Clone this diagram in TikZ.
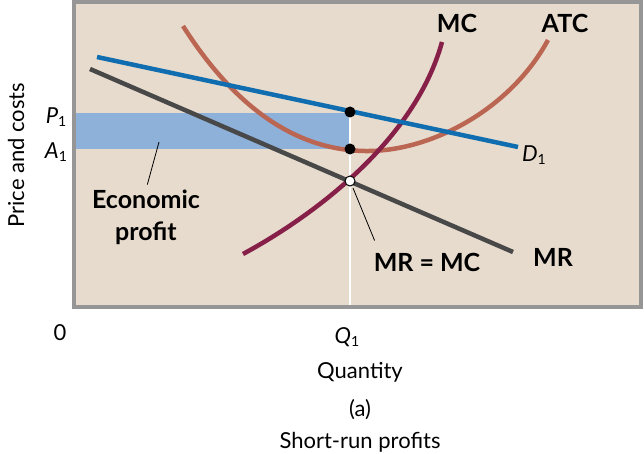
\documentclass[tikz,border=0pt]{standalone}
\usepackage{fontspec}
\setmainfont{Lato}
\usetikzlibrary{positioning}
\definecolor{paper}{RGB}{231,219,205}
\definecolor{framegray}{RGB}{150,150,150}
\definecolor{demand}{RGB}{16,110,176}
\definecolor{margrev}{RGB}{72,72,72}
\definecolor{avgcost}{RGB}{186,102,82}
\definecolor{margcost}{RGB}{134,32,72}
\definecolor{profitblue}{RGB}{142,177,218}
\newcommand{\withone}[1]{\textit{#1}\raisebox{-3pt}{\fontsize{14}{14}\selectfont 1}}

\begin{document}
\begin{tikzpicture}
[x=1pt,y=-1pt,%
  every node/.style={inner sep=0pt,font=\fontsize{22}{30}\selectfont},%
  curve/.style={line width=4.5pt},%
  lbl/.style={font=\fontsize{25}{32}\selectfont\bfseries},%
  leader/.style={line width=0.8pt,black},%
  dot/.style={circle,fill=black,minimum size=11pt,inner sep=0pt}]
\useasboundingbox (0,0) rectangle (644,454);
% panel
\fill[paper] (74,2) rectangle (641,307);
\fill[profitblue] (74,113) rectangle (350,149);
\coordinate (qtop) at (350,113);
\coordinate (qbot) at (350,306);
\draw[white,line width=1.5pt] (qtop) -- (qbot);
\draw[framegray,line width=3.5pt] (74,2) rectangle (641,307);
% curves
\coordinate (d0) at (97,57);
\coordinate (d1) at (518,147);
\coordinate (r0) at (90,69);
\coordinate (r1) at (513,252);
\coordinate (atc0) at (183,26);
\coordinate (atcmin) at (365,151);
\coordinate (atc1) at (548,40);
\coordinate (mc0) at (243,254);
\coordinate (mc1) at (442,42);
\draw[curve,avgcost] (atc0) .. controls (230,100) and (290,150) .. (atcmin)
  .. controls (430,152) and (510,110) .. (atc1);
\draw[curve,margcost] (mc0) .. controls (315,215) and (415,140) .. (mc1);
\draw[curve,demand] (d0) -- (d1);
\draw[curve,margrev] (r0) -- (r1);
% points
\node[dot] (pdot) at (350,112) {};
\node[dot] (adot) at (350,149) {};
\node[dot,fill=white,draw=black,line width=1pt,minimum size=10pt] (eqdot) at (350,181) {};
% labels
\node[lbl] (mclbl) at (457,23) {MC};
\node[lbl] (atclbl) at (565,23) {ATC};
\node (dlbl) at (534,155) {\withone{D}};
\node[lbl] (mrlbl) at (553,257) {MR};
\node[lbl] (eqlbl) at (427,262) {MR = MC};
\node[lbl,align=center] (ecolbl) at (146,217) {Economic\\profit};
\node (plbl) at (56,117) {\withone{P}};
\node (albl) at (56,152) {\withone{A}};
\node[rotate=90] (ylbl) at (16,155) {Price and costs};
\node (zero) at (60,333) {0};
\node (qlbl) at (347,337) {\withone{Q}};
\node (xlbl) at (360,372) {Quantity};
\node (panel) at (360,410) {(a)};
\node (title) at (360,442) {Short-run profits};
% leaders
\coordinate (ecotip) at (159,142);
\coordinate (eqtip) at (353,188);
\draw[leader,shorten >=5pt] (ecotip) -- (ecolbl.north);
\draw[leader,shorten >=13pt] (eqtip) -- ([xshift=6pt]eqlbl.north west);
\end{tikzpicture}
\end{document}
